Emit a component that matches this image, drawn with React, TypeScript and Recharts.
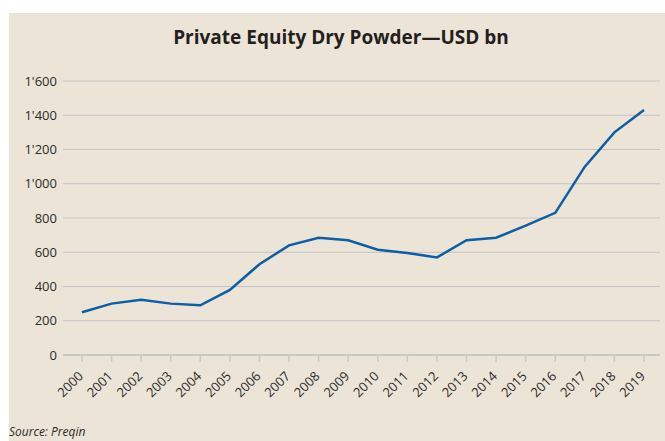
import React from "react";
import { LineChart, Line, XAxis, YAxis, CartesianGrid } from "recharts";

const years = [
  "2000", "2001", "2002", "2003", "2004", "2005", "2006", "2007", "2008", "2009",
  "2010", "2011", "2012", "2013", "2014", "2015", "2016", "2017", "2018", "2019",
];
const dryPowder = [
  250, 300, 323, 300, 290, 380, 530, 640, 685, 670,
  615, 595, 570, 670, 685, 755, 830, 1100, 1300, 1430,
];
const yTicks = [0, 200, 400, 600, 800, 1000, 1200, 1400, 1600];

const data = years.map((y, i) => ({ year: y, value: dryPowder[i] }));

const fmt = (v: number) => {
  if (v >= 1000) {
    const th = Math.floor(v / 1000);
    const rest = String(v % 1000).padStart(3, "0");
    return `${th}'${rest}`;
  }
  return String(v);
};

const FONT = "'Open Sans', sans-serif";

const XTick = (props: any) => {
  const { x, y, payload } = props;
  return (
    <g transform={`translate(${x + 2},${y + 13}) rotate(-45)`}>
      <text
        x={0}
        y={0}
        textAnchor="end"
        fill="#2b2b2b"
        fontSize={13}
        fontFamily={FONT}
      >
        {payload.value}
      </text>
    </g>
  );
};

export default function App() {
  return (
    <div
      style={{
        position: "absolute",
        left: 9,
        top: 13,
        width: 656,
        height: 428,
        background: "#ece4d6",
        fontFamily: FONT,
      }}
    >
      <div
        style={{
          position: "absolute",
          left: 0,
          width: 664,
          top: 13,
          textAlign: "center",
          fontSize: 19,
          fontWeight: 700,
          color: "#231f20",
          lineHeight: "22px",
        }}
      >
        Private Equity Dry Powder—USD bn
      </div>
      <div style={{ position: "absolute", left: 0, top: 0 }}>
        <LineChart
          width={656}
          height={400}
          data={data}
          margin={{ top: 68, right: 5, bottom: 8, left: 0 }}
        >
          <CartesianGrid
            vertical={false}
            stroke="#c3c3c6"
            strokeWidth={1.2}
          />
          <XAxis
            dataKey="year"
            interval={0}
            height={50}
            padding={{ left: 19, right: 16 }}
            axisLine={{ stroke: "#c8c8ca", strokeWidth: 2 }}
            tickLine={{ stroke: "#c8c8ca", strokeWidth: 1.5 }}
            tickSize={7}
            tick={<XTick />}
          />
          <YAxis
            width={54}
            domain={[0, 1600]}
            ticks={yTicks}
            tickFormatter={fmt}
            axisLine={false}
            tickLine={false}
            tickMargin={0}
            tick={{ fill: "#2b2b2b", fontSize: 13, fontFamily: FONT }}
          />
          <Line
            type="linear"
            dataKey="value"
            stroke="#0c5ea6"
            strokeWidth={2.5}
            dot={false}
            isAnimationActive={false}
          />
        </LineChart>
      </div>
      <div
        style={{
          position: "absolute",
          left: 0,
          top: 410,
          fontSize: 12,
          fontStyle: "italic",
          color: "#2b2b2b",
        }}
      >
        Source: Preqin
      </div>
    </div>
  );
}
